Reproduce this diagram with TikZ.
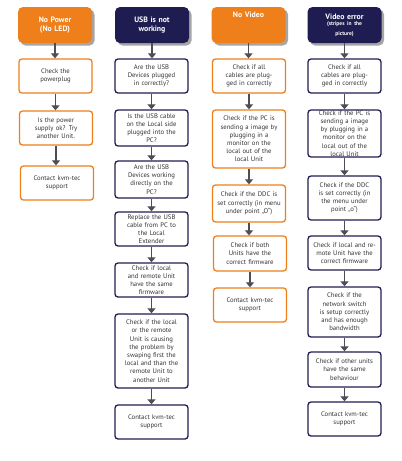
\documentclass[tikz,border=0pt]{standalone}
\usepackage{fontspec}
\setmainfont{PT Sans}
\usetikzlibrary{shadows,arrows.meta,positioning}
\definecolor{kvmorange}{HTML}{EE7F1A}
\definecolor{kvmnavy}{HTML}{1F1C52}
\definecolor{kvmarrow}{HTML}{4D4D55}
\definecolor{kvmtext}{HTML}{333333}
\tikzset{
  head/.style = {
    fill=#1, rounded corners=5pt, minimum width=74pt, minimum height=36pt,
    text width=70pt, align=center, inner sep=0pt, text=white,
    font=\fontsize{7.8}{9.2}\selectfont\bfseries,
    drop shadow={shadow xshift=2.5pt, shadow yshift=-2.5pt, fill=black, opacity=.35}
  },
  headtext/.style = {
    text width=70pt, align=center, inner sep=0pt, text=white,
    font=\fontsize{7.8}{9.2}\selectfont\bfseries
  },
  box/.style = {
    draw=#1, line width=1.3pt, rounded corners=3pt, fill=white,
    minimum width=73pt, minimum height=34pt, text width=70pt,
    align=center, inner sep=0pt, text=kvmtext,
    font=\fontsize{6.7}{8.2}\selectfont
  },
  flow/.style = {
    draw=kvmarrow, line width=1.6pt,
    -{Triangle[length=5pt,width=8pt]}
  }
}

\begin{document}
\begin{tikzpicture}[x=1pt,y=-1pt]
  \useasboundingbox (0,0) rectangle (402,461);
  % no power
  \node[head=kvmorange] (h1) at (55,25) {No Power\\(No LED)};
  \node[box=kvmorange] (a1) at (55.5,76) {Check the\\powerplug};
  \node[box=kvmorange] (a2) at (56,128) {Is the power\\supply ok? Try\\another Unit.};
  \node[box=kvmorange] (a3) at (57,183) {Contact kvm-tec\\support};
  % usb
  \node[head=kvmnavy] (h2) at (152,25) {USB is not\\working};
  \node[box=kvmnavy] (b1) at (151.5,76) {Are the USB\\Devices plugged\\in correctly?};
  \node[box=kvmnavy, minimum height=36pt] (b2) at (151.5,128) {Is the USB cable\\on the Local side\\plugged into the\\PC?};
  \node[box=kvmnavy, minimum height=37pt] (b3) at (151.5,179.5) {Are the USB\\Devices working\\directly on the\\PC?};
  \node[box=kvmnavy] (b4) at (151.5,229) {Replace the USB\\cable from PC to\\the Local\\Extender};
  \node[box=kvmnavy] (b5) at (151.5,280) {Check if local\\and remote Unit\\have the same\\firmware};
  \node[box=kvmnavy, minimum height=74pt] (b6) at (151.5,351) {Check if the local\\or the remote\\Unit is causing\\the problem by\\swaping first the\\local and than the\\remote Unit to\\another Unit};
  \node[box=kvmnavy] (b7) at (151.5,422) {Contact kvm-tec\\support};
  % no video
  \node[head=kvmorange] (h3) at (248.5,25) {};
  \node[headtext, below=5pt of h3.north] (h3t) {No Video};
  \node[box=kvmorange] (c1) at (249,76) {Check if all\\cables are plug-\\ged in correctly};
  \node[box=kvmorange, minimum height=58pt] (c2) at (249,139) {Check if the PC is\\sending a image by\\plugging in a\\monitor on the\\local out of the\\local Unit};
  \node[box=kvmorange, minimum height=37pt] (c3) at (249,203.5) {Check if the DDC is\\set correctly (in menu\\under point „O“)};
  \node[box=kvmorange, minimum height=35pt] (c4) at (250,253.5) {Check if both\\Units have the\\correct firmware};
  \node[box=kvmorange] (c5) at (250,305) {Contact kvm-tec\\support};
  % video error
  \node[head=kvmnavy] (h4) at (344.5,25) {Video error\\[-1pt]{\fontsize{5.5}{7.8}\selectfont(stripes in the\\picture)}};
  \node[box=kvmnavy] (d1) at (344.5,76) {Check if all\\cables are plug-\\ged in correctly};
  \node[box=kvmnavy, minimum height=47pt] (d2) at (344.5,133.5) {Check if the PC is\\sending a image\\by plugging in a\\monitor on the\\local out of the\\local Unit};
  \node[box=kvmnavy, minimum height=44pt] (d3) at (344.5,198) {Check if the DDC\\is set correctly (in\\the menu under\\point „o“)};
  \node[box=kvmnavy] (d4) at (344.5,253) {Check if local and re-\\mote Unit have the\\correct firmware};
  \node[box=kvmnavy, minimum height=50pt] (d5) at (344.5,312) {Check if the\\network switch\\is setup correctly\\and has enough\\bandwidth};
  \node[box=kvmnavy, minimum height=35pt] (d6) at (344.5,369.5) {Check if other units\\have the same\\behaviour};
  \node[box=kvmnavy] (d7) at (344.5,419) {Contact kvm-tec\\support};
  % arrows
  \foreach \a/\b in {h1/a1,a1/a2,a2/a3,
      h2/b1,b1/b2,b2/b3,b3/b4,b4/b5,b5/b6,b6/b7,
      h3/c1,c1/c2,c2/c3,c3/c4,c4/c5,
      h4/d1,d1/d2,d2/d3,d3/d4,d4/d5,d5/d6,d6/d7}
    \draw[flow] (\a.south) -- (\a.south |- \b.north);
\end{tikzpicture}
\end{document}
